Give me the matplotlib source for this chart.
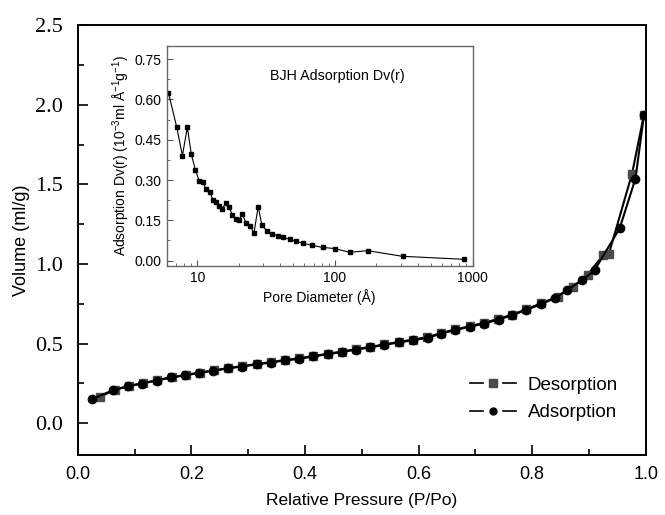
import matplotlib
matplotlib.use("Agg")
import matplotlib.pyplot as plt
from matplotlib.ticker import MultipleLocator, LogLocator, NullFormatter, FormatStrFormatter, FuncFormatter
from matplotlib.lines import Line2D
from matplotlib.legend_handler import HandlerBase

plt.rcParams['font.family'] = ['Liberation Sans', 'DejaVu Sans']
plt.rcParams['mathtext.default'] = 'regular'

# adsorption branch (P/Po, ml/g)
ads_p = [0.025, 0.062, 0.089, 0.113, 0.139, 0.164, 0.189, 0.214, 0.238, 0.264,
         0.289, 0.315, 0.340, 0.365, 0.390, 0.414, 0.440, 0.465, 0.490, 0.515,
         0.540, 0.565, 0.590, 0.616, 0.640, 0.665, 0.691, 0.715, 0.741, 0.765,
         0.790, 0.815, 0.840, 0.861, 0.888, 0.910, 0.954, 0.982, 0.997]
ads_v = [0.151, 0.207, 0.232, 0.249, 0.268, 0.287, 0.300, 0.316, 0.329, 0.344,
         0.356, 0.369, 0.381, 0.394, 0.404, 0.419, 0.433, 0.447, 0.462, 0.476,
         0.492, 0.507, 0.521, 0.536, 0.563, 0.586, 0.605, 0.626, 0.651, 0.678,
         0.712, 0.747, 0.785, 0.835, 0.898, 0.961, 1.223, 1.537, 1.939]

# desorption branch
des_p = [0.039, 0.065, 0.090, 0.115, 0.140, 0.165, 0.190, 0.215, 0.240, 0.265,
         0.290, 0.315, 0.340, 0.365, 0.390, 0.415, 0.440, 0.465, 0.490, 0.515,
         0.540, 0.565, 0.590, 0.615, 0.640, 0.665, 0.690, 0.715, 0.740, 0.765,
         0.790, 0.815, 0.845, 0.872, 0.898, 0.925, 0.935, 0.976, 0.997]
des_v = [0.165, 0.210, 0.234, 0.252, 0.270, 0.289, 0.303, 0.318, 0.332, 0.346,
         0.359, 0.372, 0.384, 0.397, 0.408, 0.422, 0.436, 0.450, 0.465, 0.479,
         0.495, 0.510, 0.525, 0.540, 0.566, 0.589, 0.609, 0.630, 0.655, 0.682,
         0.716, 0.752, 0.795, 0.856, 0.934, 1.055, 1.062, 1.568, 1.939]

# BJH pore size distribution (inset)
pore_d = [6.18, 7.10, 7.80, 8.47, 9.06, 9.68, 10.34, 10.92, 11.66, 12.33,
          13.03, 13.77, 14.46, 15.20, 16.07, 16.98, 17.94, 18.97, 20.05, 21.18,
          22.64, 24.3, 25.8, 27.7, 29.5, 32.2, 34.8, 38.3, 41.8, 46.9,
          52.4, 59.1, 68.3, 81.5, 99.4, 128, 173, 310, 861]
pore_dv = [0.624, 0.496, 0.391, 0.496, 0.395, 0.339, 0.295, 0.291, 0.267, 0.256,
           0.224, 0.218, 0.202, 0.194, 0.213, 0.201, 0.171, 0.155, 0.150, 0.174,
           0.140, 0.128, 0.102, 0.201, 0.131, 0.109, 0.100, 0.093, 0.088, 0.079,
           0.072, 0.064, 0.057, 0.049, 0.045, 0.031, 0.037, 0.016, 0.005]


class GapLineHandler(HandlerBase):
    # Origin-style legend symbol: line, gap, marker, gap, line
    def create_artists(self, legend, orig, xd, yd, w, h, fontsize, trans):
        x0, x1 = -xd, -xd + w
        ym = (h - yd) / 2.0
        seg = 0.28 * w
        kw = dict(color=orig.get_color(), lw=1.2, transform=trans)
        left = Line2D([x0, x0 + seg], [ym, ym], **kw)
        right = Line2D([x1 - seg, x1], [ym, ym], **kw)
        mk = Line2D([(x0 + x1) / 2.0], [ym], ls='none', marker=orig.get_marker(),
                    ms=orig.get_markersize(), mfc=orig.get_markerfacecolor(),
                    mec=orig.get_markeredgecolor(), transform=trans)
        return [left, right, mk]


fig = plt.figure(figsize=(6.65, 5.15), dpi=100)
ax = fig.add_axes([0.117, 0.1165, 0.854, 0.8345])

ax.plot(des_p, des_v, color='black', lw=1.5, marker='s', ms=6, mfc='#4a4a4a', mec='#4a4a4a')
ax.plot(ads_p, ads_v, color='black', lw=1.5, marker='o', ms=6, mfc='black', mec='black')

ax.set_xlim(0, 1.0)
ax.set_ylim(-0.2, 2.5)
ax.xaxis.set_major_locator(MultipleLocator(0.2))
ax.xaxis.set_minor_locator(MultipleLocator(0.1))
ax.yaxis.set_major_locator(MultipleLocator(0.5))
ax.yaxis.set_minor_locator(MultipleLocator(0.25))
ax.xaxis.set_major_formatter(FormatStrFormatter('%.1f'))
ax.yaxis.set_major_formatter(FormatStrFormatter('%.1f'))
ax.tick_params(which='both', direction='in', top=False, right=False, width=1.2)
ax.tick_params(which='major', length=7)
ax.tick_params(which='minor', length=4)
ax.tick_params(axis='x', labelsize=13, pad=8)
ax.tick_params(axis='y', labelsize=16, pad=11)
for lab in ax.get_yticklabels():
    lab.set_fontfamily('Liberation Serif')
for sp in ax.spines.values():
    sp.set_linewidth(1.4)
ax.set_xlabel('Relative Pressure (P/Po)', fontsize=12.5, labelpad=7)
ax.set_ylabel('Volume (ml/g)', fontsize=13, labelpad=3)

handles = [Line2D([], [], color='black', lw=1.5, marker='s', ms=5.5, mfc='#4a4a4a', mec='#4a4a4a'),
           Line2D([], [], color='black', lw=1.5, marker='o', ms=5, mfc='black', mec='black')]
ax.legend(handles, ['Desorption', 'Adsorption'], loc='center left',
          bbox_to_anchor=(0.66, 0.13), frameon=False, fontsize=13.5,
          handlelength=2.5, handletextpad=0.6, labelspacing=0.55,
          handler_map={Line2D: GapLineHandler()})

# inset
ins = fig.add_axes([0.2507, 0.4835, 0.460, 0.4278])
ins.plot(pore_d, pore_dv, color='black', lw=0.8, marker='s', ms=3.5)
ins.set_xscale('log')
ins.set_xlim(6, 1000)
ins.set_ylim(-0.02, 0.80)
ins.yaxis.set_major_locator(MultipleLocator(0.15))
ins.yaxis.set_minor_locator(MultipleLocator(0.075))
ins.yaxis.set_major_formatter(FormatStrFormatter('%.2f'))
ins.xaxis.set_major_locator(LogLocator(base=10))
ins.xaxis.set_minor_locator(LogLocator(base=10, subs=range(2, 10)))
ins.xaxis.set_minor_formatter(NullFormatter())
ins.xaxis.set_major_formatter(FuncFormatter(lambda v, p: '%d' % v))
ins.tick_params(which='both', direction='in', top=False, right=False, labelsize=10, color='#555555')
ins.tick_params(which='major', length=4)
ins.tick_params(which='minor', length=2.5)
for sp in ins.spines.values():
    sp.set_color('#666666')
    sp.set_linewidth(1.0)
ins.set_xlabel('Pore Diameter (Å)', fontsize=10, labelpad=3)
ins.set_ylabel('Adsorption Dv(r) (10$^{-3}$ml Å$^{-1}$g$^{-1}$)', fontsize=10, labelpad=2)
ins.text(0.558, 0.862, 'BJH Adsorption Dv(r)', transform=ins.transAxes,
         ha='center', va='center', fontsize=10.3)

fig.savefig('out.png', dpi=100)
